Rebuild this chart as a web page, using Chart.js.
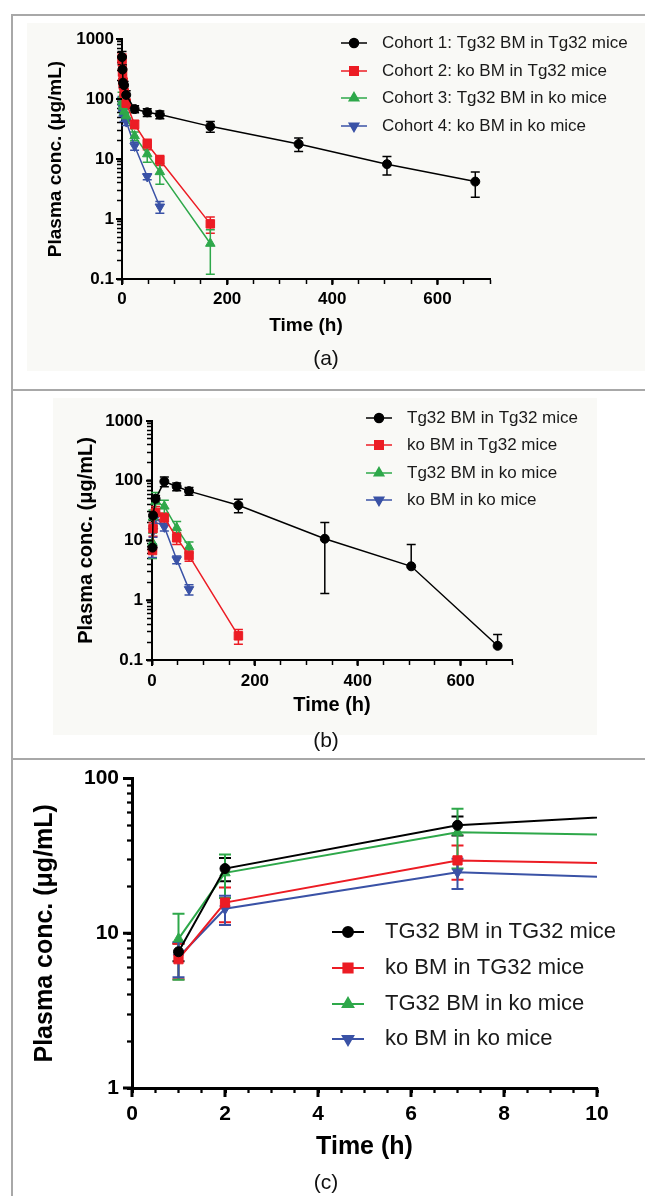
<!DOCTYPE html>
<html>
<head>
<meta charset="utf-8">
<script src="https://cdn.jsdelivr.net/npm/chart.js@4.4.0/dist/chart.umd.min.js"></script>
<style>
html, body { margin: 0; padding: 0; background: #fff; }
body { width: 645px; height: 1196px; position: relative; overflow: hidden; font-family: Arial, "Liberation Sans", sans-serif; }
.bg { position: absolute; background: #f9f9f6; }
.rule { position: absolute; background: #a8a8a8; }
canvas { position: absolute; left: 0; }
.cap { position: absolute; width: 60px; text-align: center; font-size: 21px; line-height: 24px; color: #111; }
</style>
</head>
<body>
<div class="bg" style="left:27px;top:23px;width:618px;height:348px"></div>
<div class="bg" style="left:53px;top:398px;width:544px;height:337px"></div>
<div class="rule" style="left:11px;top:14px;width:2px;height:1182px"></div>
<div class="rule" style="left:11px;top:14px;width:634px;height:2px"></div>
<div class="rule" style="left:11px;top:389px;width:634px;height:2px"></div>
<div class="rule" style="left:11px;top:758px;width:634px;height:2px"></div>

<canvas id="chartA" width="645" height="389" style="top:0px"></canvas>
<canvas id="chartB" width="645" height="369" style="top:389px"></canvas>
<canvas id="chartC" width="645" height="438" style="top:758px"></canvas>

<div class="cap" style="left:296px;top:346px">(a)</div>
<div class="cap" style="left:296px;top:728px">(b)</div>
<div class="cap" style="left:296px;top:1170px">(c)</div>

<script>
// ---- panel (a) data: time (h), mean and SD ----
const timesA = [0.083, 1, 2, 4, 8, 24, 48, 72, 168, 336, 504, 672];
const cohort1 = [500, 310, 187, 170, 117, 68, 60, 55, 35, 17.8, 8.2, 4.2];
const cohort1Sd = [120, 60, 30, 25, 20, 9, 9, 8, 7, 4.5, 2.8, 1.9];
const cohort2 = [460, 280, 190, 125, 85, 37.8, 17.8, 9.6, 0.83];
const cohort2Sd = [100, 60, 40, 25, 15, 6, 3.5, 1.8, 0.25];
const cohort3 = [110, 90, 75, 62, 52, 24.2, 12.1, 6.1, 0.39];
const cohort3Sd = [20, 15, 12, 10, 8, 4, 3.3, 2.3, 0.27];
const cohort4 = [95, 75, 62, 50, 42, 16.5, 5.1, 1.6];
const cohort4Sd = [15, 12, 10, 8, 6, 2.5, 0.6, 0.35];
const labelsA = ['Cohort 1: Tg32 BM in Tg32 mice', 'Cohort 2: ko BM in Tg32 mice',
                 'Cohort 3: Tg32 BM in ko mice', 'Cohort 4: ko BM in ko mice'];

// ---- panel (b) data, panel (c) is a close-up of the same curves ----
const timesB = [1, 2, 7, 24, 48, 72, 168, 336, 504, 672];
const tgInTg = [7.6, 26.2, 49.9, 97, 80, 67, 39, 10.7, 3.7, 0.173];
const tgInTgSd = [1.0, 4.5, 7, 18, 12, 10, 10, 9.4, 4.9, 0.095];
const koInTg = [6.8, 15.8, 29.6, 23.9, 11.1, 5.6, 0.254];
const koInTgSd = [1.75, 4, 7.4, 5, 2.5, 1.1, 0.07];
const tgInKo = [9.2, 24.6, 45, 37.3, 16.3, 7.8];
const tgInKoSd = [4.2, 7.7, 18.8, 10, 4.5, 1.6];
const koInKo = [7.0, 14.4, 24.8, 16.9, 4.8, 1.52];
const koInKoSd = [1.8, 3.1, 5.5, 2.5, 0.7, 0.3];
const labelsB = ['Tg32 BM in Tg32 mice', 'ko BM in Tg32 mice', 'Tg32 BM in ko mice', 'ko BM in ko mice'];
const labelsC = ['TG32 BM in TG32 mice', 'ko BM in TG32 mice', 'TG32 BM in ko mice', 'ko BM in ko mice'];

// ---- axis ticks ----
const yLabelsAB = [0.1, 1, 10, 100, 1000];
const yLabelsC = [1, 10, 100];
const xLabelsAB = [0, 200, 400, 600];
const xMaxAB = 700, xStepAB = 50;
const xLabelsC = [0, 2, 4, 6, 8, 10];
const xMaxC = 10, xStepC = 0.5;

const colors = ['#000000', '#ec1c24', '#2ea84a', '#3a52a6'];
const shapes = [
  { pointStyle: 'circle', rotation: 0 },
  { pointStyle: 'rect', rotation: 0 },
  { pointStyle: 'triangle', rotation: 0 },
  { pointStyle: 'triangle', rotation: 180 }
];

function logTicks(majors) {
  const out = [];
  for (let i = 0; i < majors.length - 1; i++) {
    for (let k = 1; k <= 9; k++) {
      out.push({ value: parseFloat((k * majors[i]).toPrecision(6)), major: k === 1 });
    }
  }
  out.push({ value: majors[majors.length - 1], major: true });
  return out;
}

function linTicks(max, step, labels) {
  const out = [];
  for (let v = 0; v <= max + 1e-9; v += step) {
    const val = parseFloat(v.toFixed(4));
    out.push({ value: val, major: labels.includes(val) });
  }
  return out;
}

function pts(times, vals) {
  return vals.map((v, i) => ({ x: times[i], y: v }));
}

const errorBars = {
  id: 'errorBars',
  beforeDatasetsDraw(chart, args, o) {
    const { ctx, chartArea: a, scales: { x, y } } = chart;
    ctx.save();
    ctx.beginPath();
    ctx.rect(a.left - 8, a.top - 2, a.width + 8, a.height + 2);
    ctx.clip();
    ctx.lineWidth = o.lineWidth;
    chart.data.datasets.forEach(ds => {
      ctx.strokeStyle = ds.borderColor;
      ds.data.forEach((p, i) => {
        if (p.x > x.max) return;
        const sd = ds.sd[i];
        const px = x.getPixelForValue(p.x);
        const py = y.getPixelForValue(p.y);
        const hi = y.getPixelForValue(p.y + sd);
        ctx.beginPath();
        ctx.moveTo(px, py); ctx.lineTo(px, hi);
        ctx.moveTo(px - o.cap, hi); ctx.lineTo(px + o.cap, hi);
        const lo = p.y - sd;
        if (lo > y.min) {
          const lp = y.getPixelForValue(lo);
          ctx.moveTo(px, py); ctx.lineTo(px, lp);
          ctx.moveTo(px - o.cap, lp); ctx.lineTo(px + o.cap, lp);
        }
        ctx.stroke();
      });
    });
    ctx.restore();
  }
};

// labelled ticks a bit longer than the minor ones
const longTicks = {
  id: 'longTicks',
  afterDraw(chart, args, o) {
    if (!o.length) return;
    const { ctx, chartArea: a, scales: { x, y } } = chart;
    ctx.save();
    ctx.strokeStyle = '#000';
    ctx.lineWidth = o.width;
    ctx.beginPath();
    x.ticks.forEach(t => {
      if (!t.major) return;
      const px = x.getPixelForValue(t.value);
      ctx.moveTo(px, a.bottom); ctx.lineTo(px, a.bottom + o.length);
    });
    y.ticks.forEach(t => {
      if (!t.major) return;
      const py = y.getPixelForValue(t.value);
      ctx.moveTo(a.left, py); ctx.lineTo(a.left - o.length, py);
    });
    ctx.stroke();
    ctx.restore();
  }
};

const sideLegend = {
  id: 'sideLegend',
  afterDraw(chart, args, o) {
    const ctx = chart.ctx;
    ctx.save();
    chart.data.datasets.forEach((ds, i) => {
      const y = o.rows[i];
      ctx.strokeStyle = ds.borderColor;
      ctx.lineWidth = o.lineWidth;
      ctx.beginPath();
      ctx.moveTo(o.x0, y); ctx.lineTo(o.x1, y);
      ctx.stroke();
      ctx.fillStyle = ds.backgroundColor;
      ctx.strokeStyle = ds.borderColor;
      Chart.helpers.drawPoint(ctx, {
        pointStyle: ds.pointStyle, radius: ds.pointRadius,
        rotation: ds.pointRotation || 0, borderWidth: 1
      }, (o.x0 + o.x1) / 2, y);
      ctx.fillStyle = '#1a1a1a';
      ctx.font = o.font;
      ctx.textBaseline = 'middle';
      ctx.textAlign = 'left';
      ctx.fillText(ds.label, o.textX, y);
    });
    ctx.restore();
  }
};

function makeChart(id, series, L) {
  const datasets = series.map((s, i) => ({
    label: s.label,
    data: s.data,
    sd: s.sd,
    showLine: true,
    borderColor: colors[i],
    backgroundColor: colors[i],
    borderWidth: L.lineWidth,
    pointStyle: shapes[i].pointStyle,
    pointRotation: shapes[i].rotation,
    pointRadius: L.radius[i],
    pointBorderWidth: 1,
    tension: 0,
    clip: L.clip
  }));
  const family = 'Arial, "Liberation Sans", sans-serif';
  const tickW = c => (c.tick && c.tick.major) ? L.axisWidth : L.axisWidth * 0.75;
  return new Chart(document.getElementById(id), {
    type: 'scatter',
    data: { datasets },
    plugins: [errorBars, longTicks, sideLegend],
    options: {
      responsive: false,
      animation: false,
      events: [],
      layout: { padding: { left: 0, top: L.top, right: L.right, bottom: 0 } },
      plugins: {
        legend: { display: false },
        tooltip: { enabled: false },
        errorBars: { lineWidth: L.errWidth, cap: L.cap },
        longTicks: { length: L.majorLen, width: L.axisWidth },
        sideLegend: L.legend
      },
      scales: {
        x: {
          type: 'linear', min: 0, max: L.xMax,
          afterBuildTicks: s => { s.ticks = linTicks(L.xMax, L.xStep, L.xLabels); },
          afterFit: s => { s.height = L.xHeight; },
          ticks: {
            autoSkip: false, maxRotation: 0, padding: L.xPad, color: '#000',
            font: { family, size: L.tickSize, weight: 'bold' },
            callback: v => L.xLabels.includes(v) ? String(v) : ''
          },
          grid: { drawOnChartArea: false, drawTicks: true, tickLength: L.tickLen, color: '#000', tickWidth: tickW },
          border: { display: true, color: '#000', width: L.axisWidth },
          title: {
            display: true, text: 'Time (h)', color: '#000',
            font: { family, size: L.titleSize, weight: 'bold' },
            padding: { top: 0, bottom: L.xTitlePad }
          }
        },
        y: {
          type: 'logarithmic', min: L.yLabels[0], max: L.yLabels[L.yLabels.length - 1],
          afterBuildTicks: s => { s.ticks = logTicks(L.yLabels); },
          afterFit: s => { s.width = L.yWidth; },
          ticks: {
            autoSkip: false, padding: L.yPad, color: '#000',
            font: { family, size: L.tickSize, weight: 'bold' },
            callback: v => L.yLabels.includes(v) ? String(v) : ''
          },
          grid: { drawOnChartArea: false, drawTicks: true, tickLength: L.tickLen, color: '#000', tickWidth: tickW },
          border: { display: true, color: '#000', width: L.axisWidth },
          title: {
            display: true, text: 'Plasma conc. (\u03bcg/mL)', color: '#000',
            font: { family, size: L.titleSize, weight: 'bold' },
            padding: { top: L.yTitlePad, bottom: 0 }
          }
        }
      }
    }
  });
}

// panel (a)
makeChart('chartA', [
  { label: labelsA[0], data: pts(timesA, cohort1), sd: cohort1Sd },
  { label: labelsA[1], data: pts(timesA, cohort2), sd: cohort2Sd },
  { label: labelsA[2], data: pts(timesA, cohort3), sd: cohort3Sd },
  { label: labelsA[3], data: pts(timesA, cohort4), sd: cohort4Sd }
], {
  top: 39, right: 155, yWidth: 122, xHeight: 110,
  xMax: xMaxAB, xStep: xStepAB, xLabels: xLabelsAB, yLabels: yLabelsAB,
  tickSize: 17, titleSize: 19, xPad: 5, yPad: 3, tickLen: 5, majorLen: 6, axisWidth: 2,
  xTitlePad: 52, yTitlePad: 44,
  lineWidth: 1.5, radius: [4.5, 6, 5.5, 5.5], errWidth: 1.5, cap: 4.5, clip: false,
  legend: { x0: 341, x1: 367, textX: 382, rows: [43, 71, 98, 126], lineWidth: 1.5,
            font: '17px Arial, "Liberation Sans", sans-serif' }
});

// panel (b)
const seriesB = [
  { label: labelsB[0], data: pts(timesB, tgInTg), sd: tgInTgSd },
  { label: labelsB[1], data: pts(timesB, koInTg), sd: koInTgSd },
  { label: labelsB[2], data: pts(timesB, tgInKo), sd: tgInKoSd },
  { label: labelsB[3], data: pts(timesB, koInKo), sd: koInKoSd }
];
makeChart('chartB', seriesB, {
  top: 32, right: 133, yWidth: 152, xHeight: 98,
  xMax: xMaxAB, xStep: xStepAB, xLabels: xLabelsAB, yLabels: yLabelsAB,
  tickSize: 17, titleSize: 20, xPad: 6, yPad: 4, tickLen: 5, majorLen: 6, axisWidth: 2,
  xTitlePad: 41, yTitlePad: 74,
  lineWidth: 1.5, radius: [4.5, 6, 5.5, 5.5], errWidth: 1.5, cap: 4.5, clip: false,
  legend: { x0: 366, x1: 392, textX: 407, rows: [29, 56, 84, 111], lineWidth: 1.5,
            font: '17px Arial, "Liberation Sans", sans-serif' }
});

// panel (c): same data, early time window
makeChart('chartC', seriesB.map((s, i) => ({ label: labelsC[i], data: s.data, sd: s.sd })), {
  top: 19, right: 48, yWidth: 132, xHeight: 108,
  xMax: xMaxC, xStep: xStepC, xLabels: xLabelsC, yLabels: yLabelsC,
  tickSize: 21, titleSize: 25, xPad: 9, yPad: 8, tickLen: 5, majorLen: 9, axisWidth: 3,
  xTitlePad: 34, yTitlePad: 30,
  lineWidth: 2, radius: [5, 6.5, 6, 6], errWidth: 2, cap: 6,
  clip: { left: 10, top: 10, right: 0, bottom: 10 },
  legend: { x0: 332, x1: 364, textX: 385, rows: [174, 210, 246, 281], lineWidth: 2,
            font: '22px Arial, "Liberation Sans", sans-serif' }
});
</script>
</body>
</html>
